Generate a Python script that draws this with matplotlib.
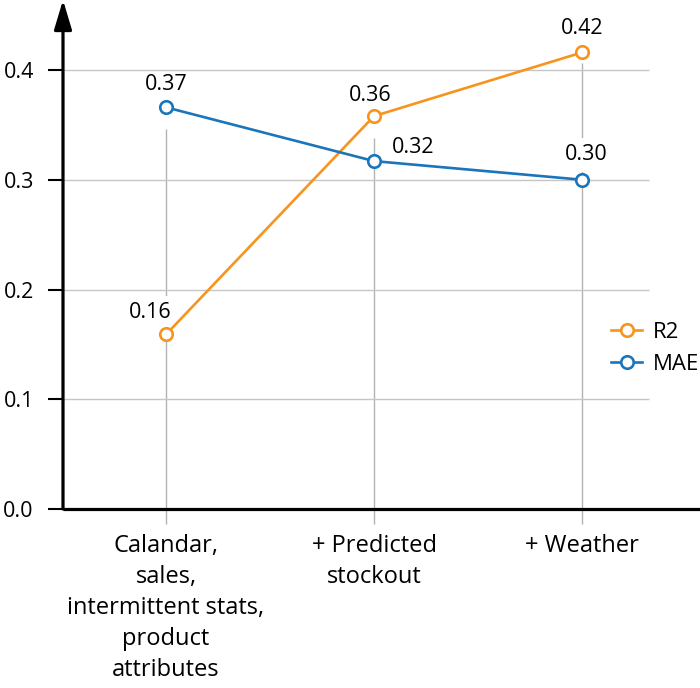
import numpy as np
from matplotlib import pyplot as plt

plt.rcParams['font.family'] = ['Open Sans', 'DejaVu Sans']

categories = ['Calandar,\nsales,\nintermittent stats,\nproduct\nattributes',
              '+ Predicted\nstockout',
              '+ Weather']
r2 = [0.159, 0.358, 0.416]
mae = [0.366, 0.317, 0.300]
yticks = [0.0, 0.1, 0.2, 0.3, 0.4]

orange = '#f7941d'
blue = '#1b75bb'
# label offsets in points (x, y)
r2_off = [(-11.5, 15.5), (-3, 14.5), (0, 17.5)]
mae_off = [(0, 16.5), (28, 10), (3, 18)]
rule_gap = [0.02, 0.02, 0.01]

fig = plt.figure(figsize=(7, 6.88), dpi=100)
ax = fig.add_axes([63 / 700, 1 - 526 / 688, 637 / 700, 526 / 688])
x0, x1 = -0.495, 2.567
ax.set_xlim(x0, x1)
ax.set_ylim(-17 / 1097.5, 509 / 1097.5)
for s in ax.spines.values():
    s.set_visible(False)

x = np.arange(len(categories))

# grid
ax.hlines(yticks[1:], x0, 2.322, color='#c6c6c6', lw=1.0, zorder=2.5)
# vertical rules
for i in x:
    top = max(r2[i], mae[i]) - rule_gap[i]
    ax.vlines(i, -0.0137, top, color='#b3b3b3', lw=1.0, zorder=1)

# axes
ax.plot([x0, x1], [0, 0], color='black', lw=2.3, zorder=4, solid_capstyle='butt')
ax.annotate('', xy=(x0, 509 / 1097.5), xytext=(x0, 0),
            arrowprops=dict(arrowstyle='-|>,head_length=0.9,head_width=0.27',
                            lw=2.3, color='black', shrinkA=0, shrinkB=0,
                            mutation_scale=20),
            zorder=4, annotation_clip=False)

ax.plot(x, r2, color=orange, lw=1.9, marker='o', ms=9, mfc='white',
        mec=orange, mew=1.9, label='R2', zorder=3)
ax.plot(x, mae, color=blue, lw=1.9, marker='o', ms=9, mfc='white',
        mec=blue, mew=1.9, label='MAE', zorder=3)

for vals, offs in [(r2, r2_off), (mae, mae_off)]:
    for i, v in enumerate(vals):
        ax.annotate('{:.2f}'.format(v), (i, v), xytext=offs[i],
                    textcoords='offset points', ha='center', va='center',
                    fontsize=15.5, zorder=2,
                    bbox=dict(boxstyle='square,pad=0.3', fc='white', ec='none'))

ax.set_yticks(yticks)
ax.set_yticklabels(['{:.1f}'.format(t) for t in yticks], fontsize=15.5)
ax.tick_params(axis='y', length=11, width=1.5, color='black', pad=10)
ax.set_xticks(x)
ax.set_xticklabels(categories, fontsize=17, linespacing=1.38)
ax.tick_params(axis='x', length=0, pad=6)

fig.legend(loc='upper left', bbox_to_anchor=(611 / 700, 1 - 322 / 688),
           frameon=False, fontsize=16, borderpad=0, borderaxespad=0,
           handlelength=1.4, handletextpad=0.5, labelspacing=0.5)

plt.savefig('out.png', dpi=100)
